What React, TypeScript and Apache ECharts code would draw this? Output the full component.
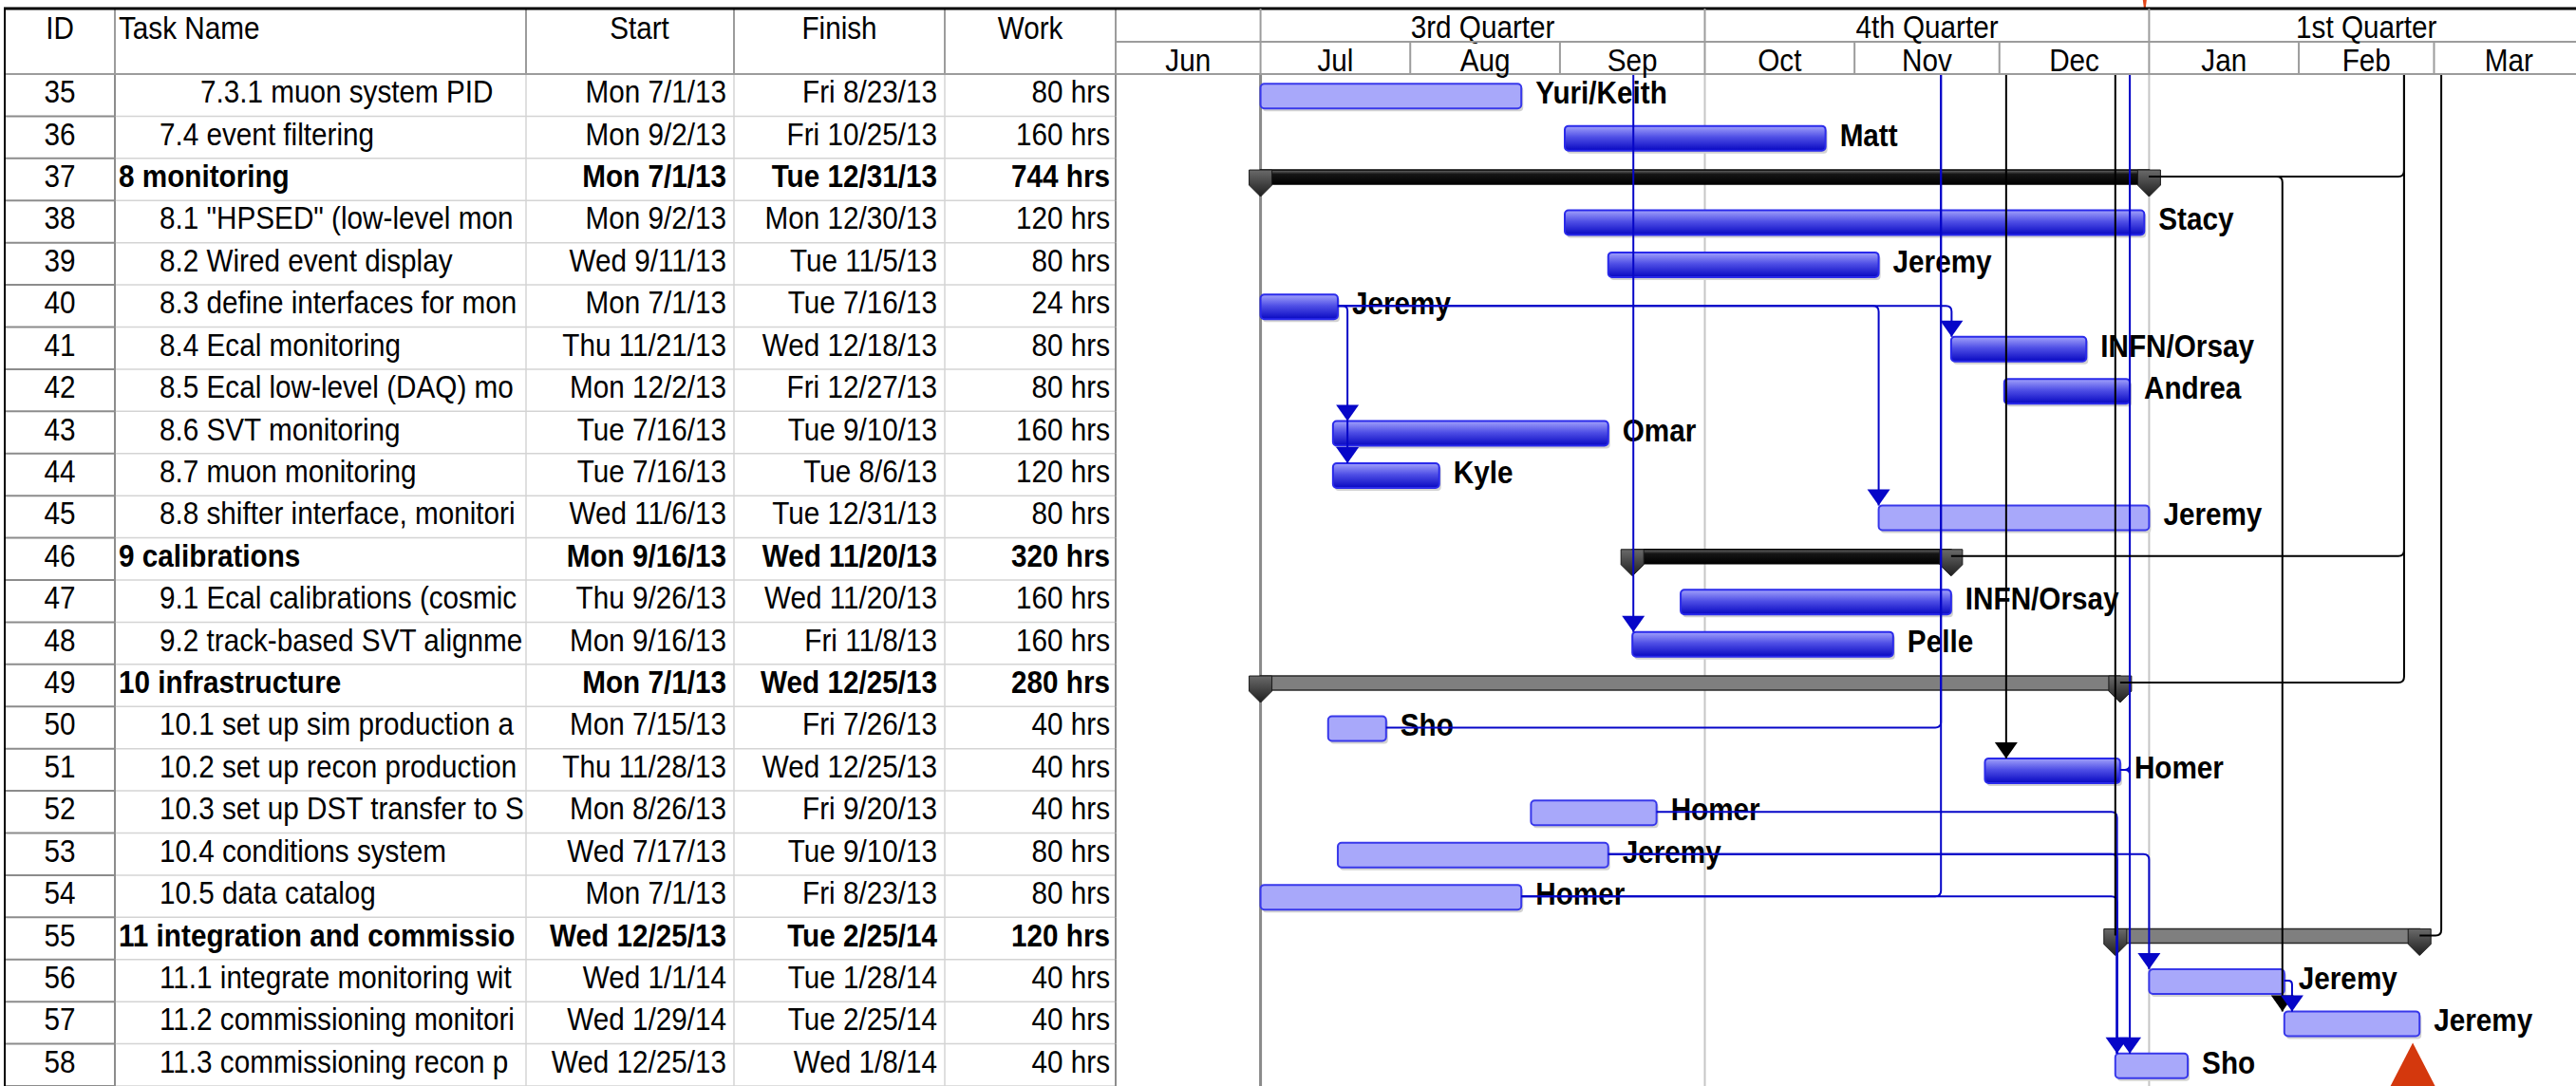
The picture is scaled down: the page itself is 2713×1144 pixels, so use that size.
import React, { useEffect, useRef } from "react";
import * as echarts from "echarts";

// ---------------- DATA ----------------
const ids = [35, 36, 37, 38, 39, 40, 41, 42, 43, 44, 45, 46, 47, 48, 49, 50, 51, 52, 53, 54, 55, 56, 57, 58];
const taskNames = [
  "7.3.1 muon system PID",
  "7.4 event filtering",
  "8 monitoring",
  '8.1 "HPSED" (low-level mon',
  "8.2 Wired event display",
  "8.3 define interfaces for mon",
  "8.4 Ecal monitoring",
  "8.5 Ecal low-level (DAQ) mo",
  "8.6 SVT monitoring",
  "8.7 muon monitoring",
  "8.8 shifter interface, monitori",
  "9 calibrations",
  "9.1 Ecal calibrations (cosmic",
  "9.2 track-based SVT alignme",
  "10 infrastructure",
  "10.1 set up sim production a",
  "10.2 set up recon production",
  "10.3 set up DST transfer to S",
  "10.4 conditions system",
  "10.5 data catalog",
  "11 integration and commissio",
  "11.1 integrate monitoring wit",
  "11.2 commissioning monitori",
  "11.3 commissioning recon p",
];
const outlineLevels = [3, 2, 1, 2, 2, 2, 2, 2, 2, 2, 2, 1, 2, 2, 1, 2, 2, 2, 2, 2, 1, 2, 2, 2];
const startLabels = [
  "Mon 7/1/13", "Mon 9/2/13", "Mon 7/1/13", "Mon 9/2/13", "Wed 9/11/13", "Mon 7/1/13",
  "Thu 11/21/13", "Mon 12/2/13", "Tue 7/16/13", "Tue 7/16/13", "Wed 11/6/13", "Mon 9/16/13",
  "Thu 9/26/13", "Mon 9/16/13", "Mon 7/1/13", "Mon 7/15/13", "Thu 11/28/13", "Mon 8/26/13",
  "Wed 7/17/13", "Mon 7/1/13", "Wed 12/25/13", "Wed 1/1/14", "Wed 1/29/14", "Wed 12/25/13",
];
const finishLabels = [
  "Fri 8/23/13", "Fri 10/25/13", "Tue 12/31/13", "Mon 12/30/13", "Tue 11/5/13", "Tue 7/16/13",
  "Wed 12/18/13", "Fri 12/27/13", "Tue 9/10/13", "Tue 8/6/13", "Tue 12/31/13", "Wed 11/20/13",
  "Wed 11/20/13", "Fri 11/8/13", "Wed 12/25/13", "Fri 7/26/13", "Wed 12/25/13", "Fri 9/20/13",
  "Tue 9/10/13", "Fri 8/23/13", "Tue 2/25/14", "Tue 1/28/14", "Tue 2/25/14", "Wed 1/8/14",
];
const workLabels = [
  "80 hrs", "160 hrs", "744 hrs", "120 hrs", "80 hrs", "24 hrs", "80 hrs", "80 hrs",
  "160 hrs", "120 hrs", "80 hrs", "320 hrs", "160 hrs", "160 hrs", "280 hrs", "40 hrs",
  "40 hrs", "40 hrs", "80 hrs", "80 hrs", "120 hrs", "40 hrs", "40 hrs", "40 hrs",
];
const resourceNames = [
  "Yuri/Keith", "Matt", "", "Stacy", "Jeremy", "Jeremy", "INFN/Orsay", "Andrea",
  "Omar", "Kyle", "Jeremy", "", "INFN/Orsay", "Pelle", "", "Sho",
  "Homer", "Homer", "Jeremy", "Homer", "", "Jeremy", "Jeremy", "Sho",
];
// L = light task, D = dark task, SB = black summary, SG = gray summary
const barKinds = [
  "L", "D", "SB", "D", "D", "D", "D", "D", "D", "D", "L", "SB",
  "D", "D", "SG", "L", "D", "L", "L", "L", "SG", "L", "L", "L",
];
const headerLabels = ["ID", "Task Name", "Start", "Finish", "Work"];

const quarterLabels = ["3rd Quarter", "4th Quarter", "1st Quarter"];
const quarterStarts = ["2013-07-01", "2013-10-01", "2014-01-01"];
const quarterEnds = ["2013-10-01", "2014-01-01", "2014-04-01"];
const monthLabels = ["Jun", "Jul", "Aug", "Sep", "Oct", "Nov", "Dec", "Jan", "Feb", "Mar"];
const monthStarts = [
  "2013-06-01", "2013-07-01", "2013-08-01", "2013-09-01", "2013-10-01",
  "2013-11-01", "2013-12-01", "2014-01-01", "2014-02-01", "2014-03-01",
];
const gridLineDates = ["2013-07-01", "2013-10-01", "2014-01-01"];
const gridLineKinds = ["start", "quarter", "quarter"];

// link paths: [color, points]; point = [date(+fraction of day), row index, anchor]
// anchor: T = top of chart, c = row centre, t = bar top, s = summary line
const linkPaths: [string, [string, number, string][]][] = [
  ["blue", [["2013-09-16+0.2", 0, "T"], ["2013-09-16+0.2", 13, "t"]]],
  ["blue", [["2013-07-17", 5, "c"], ["2013-11-21+0.1", 5, "c"], ["2013-11-21+0.1", 6, "t"]]],
  ["blue", [["2013-07-17", 5, "c"], ["2013-07-19", 5, "c"], ["2013-07-19", 9, "t"]]],
  ["blue", [["2013-07-17", 5, "c"], ["2013-11-06", 5, "c"], ["2013-11-06", 10, "t"]]],
  ["blue", [["2013-07-27", 15, "c"], ["2013-11-18+0.9", 15, "c"], ["2013-11-18+0.9", 0, "T"]]],
  ["blue", [["2013-08-24", 19, "c"], ["2013-11-18+0.9", 19, "c"], ["2013-11-18+0.9", 0, "T"]]],
  ["blue", [["2013-09-21", 17, "c"], ["2013-12-25+0.35", 17, "c"], ["2013-12-25+0.35", 23, "t"]]],
  ["blue", [["2013-09-11", 18, "c"], ["2014-01-01", 18, "c"], ["2014-01-01", 21, "t"]]],
  ["blue", [["2013-09-11", 18, "c"], ["2013-12-25+0.35", 18, "c"], ["2013-12-25+0.35", 23, "t"]]],
  ["blue", [["2013-08-24", 19, "c"], ["2013-12-25+0.35", 19, "c"], ["2013-12-25+0.35", 23, "t"]]],
  ["blue", [["2013-12-28", 0, "T"], ["2013-12-28", 23, "t"]]],
  ["blue", [["2013-12-26", 16, "c"], ["2013-12-28", 16, "c"], ["2013-12-28", 23, "t"]]],
  ["blue", [["2013-12-26", 16, "c"], ["2013-12-28", 16, "c"], ["2013-12-28", 0, "T"]]],
  ["black", [["2013-12-02+0.4", 0, "T"], ["2013-12-02+0.4", 16, "t"]]],
  ["black", [["2013-12-25", 0, "T"], ["2013-12-25", 20, "s"]]],
  ["black", [["2014-01-01", 2, "s"], ["2014-02-22+0.8", 2, "s"], ["2014-02-22+0.8", 0, "T"]]],
  ["black", [["2013-11-21", 11, "s"], ["2014-02-22+0.8", 11, "s"], ["2014-02-22+0.8", 0, "T"]]],
  ["black", [["2013-12-26", 14, "s"], ["2014-02-22+0.8", 14, "s"], ["2014-02-22+0.8", 0, "T"]]],
  ["black", [["2014-01-01", 2, "s"], ["2014-01-28+0.6", 2, "s"], ["2014-01-28+0.6", 22, "t"]]],
  ["black", [["2014-02-26", 20, "s"], ["2014-03-02+0.5", 20, "s"], ["2014-03-02+0.5", 0, "T"]]],
  ["blue", [["2014-01-29", 21, "c"], ["2014-01-30+0.6", 21, "c"], ["2014-01-30+0.6", 22, "t"]]],
];
// arrow heads: [color, date, row]  (tip sits on the bar top)
const linkArrows: [string, string, number][] = [
  ["blue", "2013-09-16+0.2", 13],
  ["blue", "2013-11-21+0.1", 6],
  ["blue", "2013-07-19", 8],
  ["blue", "2013-07-19", 9],
  ["blue", "2013-11-06", 10],
  ["blue", "2014-01-01", 21],
  ["black", "2013-12-02+0.4", 16],
  ["black", "2014-01-28+0.6", 22],
  ["blue", "2014-01-30+0.6", 22],
  ["blue", "2013-12-25+0.35", 23],
  ["blue", "2013-12-28", 23],
];
const deadlineMarker: [string, number] = ["2014-02-24+0.6", 22];
const statusDate = "2013-12-31+0.1";

// ---------------- LAYOUT / STYLE ----------------
const DAY = 86400000;
const W = 2713;
const H = 1144;
const TOP_Y = 9;
const MID_Y = 44;
const HEAD_B = 78;
const TABLE_LEFT = 5;
const COL_OFF = [0, 116, 549, 768, 990, 1170];
const GANTT_LEFT = 1175;
const FONT = '"Liberation Sans", Arial, Helvetica, sans-serif';
const FS = 33;
const SX = 0.9;
const TEXT_DY = -3;
const BAR_TOP = -12;
const BAR_H = 26;
const SUM_TOP = -10;
const SUM_H = 15;
const CORNER = 6;
const COLORS: Record<string, string> = { blue: "#0606c8", black: "#000000" };

const T = (s: string): number => {
  const [d, f] = s.split("+");
  const [y, m, dd] = d.split("-").map(Number);
  return Date.UTC(y, m - 1, dd) + (f ? parseFloat(f) : 0) * DAY;
};
const parseMDY = (s: string): number => {
  const p = s.split(" ")[1].split("/").map(Number);
  return Date.UTC(2000 + p[2], p[0] - 1, p[1]);
};
const X_MIN = T("2013-06-01");
const X_MAX = X_MIN + 302.4 * DAY;

const seg = (x1: number, y1: number, x2: number, y2: number, stroke: string, lineWidth: number) => ({
  type: "line",
  shape: { x1, y1, x2, y2 },
  style: { stroke, lineWidth },
});
const txt = (text: string, x: number, y: number, align: string, bold = false, extra: any = {}) => ({
  type: "text",
  x,
  y,
  scaleX: SX,
  style: {
    text,
    x: 0,
    y: 0,
    fill: "#000",
    fontFamily: FONT,
    fontSize: FS,
    fontWeight: bold ? "bold" : "normal",
    align,
    verticalAlign: "middle",
    ...extra,
  },
});

// polyline with small rounded bends, as an SVG path string
function roundedPath(pts: number[][]): string {
  let d = `M${pts[0][0]},${pts[0][1]}`;
  for (let k = 1; k < pts.length - 1; k++) {
    const [px, py] = pts[k - 1];
    const [cx, cy] = pts[k];
    const [nx, ny] = pts[k + 1];
    const l1 = Math.hypot(cx - px, cy - py) || 1;
    const l2 = Math.hypot(nx - cx, ny - cy) || 1;
    const r = Math.min(CORNER, l1 / 2, l2 / 2);
    const ax = cx - ((cx - px) / l1) * r;
    const ay = cy - ((cy - py) / l1) * r;
    const bx = cx + ((nx - cx) / l2) * r;
    const by = cy + ((ny - cy) / l2) * r;
    d += ` L${ax},${ay} Q${cx},${cy} ${bx},${by}`;
  }
  const last = pts[pts.length - 1];
  d += ` L${last[0]},${last[1]}`;
  return d;
}

function buildOption(): any {
  const starts = startLabels.map(parseMDY);
  const ends = finishLabels.map((s) => parseMDY(s) + DAY);
  const darkGrad = new echarts.graphic.LinearGradient(0, 0, 0, 1, [
    { offset: 0, color: "#a2a2fb" },
    { offset: 0.45, color: "#5050e6" },
    { offset: 1, color: "#0808c2" },
  ]);
  const blackGrad = new echarts.graphic.LinearGradient(0, 0, 0, 1, [
    { offset: 0, color: "#6e6e6e" },
    { offset: 0.3, color: "#151515" },
    { offset: 1, color: "#000000" },
  ]);
  const capGrad = new echarts.graphic.LinearGradient(0, 0, 0, 1, [
    { offset: 0, color: "#6a6a6a" },
    { offset: 1, color: "#1e1e1e" },
  ]);

  const LIGHT = "#d4d4d4";
  const DARK = "#8c8c8c";
  const HEAD = "#9c9c9c";

  const tableHeader = {
    type: "custom",
    xAxisIndex: 0,
    yAxisIndex: 0,
    silent: true,
    z: 10,
    data: [[0.5, 0]],
    renderItem: (params: any) => {
      const cs = params.coordSys;
      const L = cs.x;
      const ch: any[] = [];
      ch.push(seg(L, HEAD_B, W, HEAD_B, HEAD, 2));
      for (let k = 1; k <= 5; k++) ch.push(seg(L + COL_OFF[k], TOP_Y, L + COL_OFF[k], HEAD_B, HEAD, 2));
      ch.push(seg(L, TOP_Y, L, H, "#000", 2));
      ch.push(seg(L - 1, TOP_Y, W, TOP_Y, "#000", 3));
      headerLabels.forEach((lab, k) => {
        if (k === 1) ch.push(txt(lab, L + COL_OFF[1] + 4, 30, "left"));
        else {
          const nudge = k === 2 ? 10 : 0;
          ch.push(txt(lab, L + (COL_OFF[k] + COL_OFF[k + 1]) / 2 + nudge, 30, "center"));
        }
      });
      return { type: "group", children: ch };
    },
  };

  const tableRows = {
    type: "custom",
    xAxisIndex: 0,
    yAxisIndex: 0,
    silent: true,
    z: 5,
    data: ids.map((_, i) => [0.5, i]),
    renderItem: (params: any, api: any) => {
      const i = params.dataIndex;
      const L = params.coordSys.x;
      const c = api.coord([0.5, i])[1];
      const h = api.size([0, 1])[1];
      const top = c - h / 2;
      const bot = c + h / 2;
      const ty = c + TEXT_DY;
      const bold = barKinds[i].charAt(0) === "S";
      const ch: any[] = [];
      ch.push(seg(L + COL_OFF[1], bot, L + COL_OFF[5], bot, LIGHT, 1.5));
      for (let k = 2; k <= 4; k++) ch.push(seg(L + COL_OFF[k], top, L + COL_OFF[k], bot, LIGHT, 1.5));
      ch.push(seg(L, bot, L + COL_OFF[1], bot, DARK, 2));
      ch.push(seg(L + COL_OFF[1], top, L + COL_OFF[1], bot, DARK, 2));
      ch.push(seg(L + COL_OFF[5], top, L + COL_OFF[5], bot, DARK, 2));
      ch.push(txt(String(ids[i]), L + COL_OFF[1] / 2, ty, "center"));
      const indent = 4 + (outlineLevels[i] - 1) * 43;
      const avail = COL_OFF[2] - COL_OFF[1] - indent + 6;
      ch.push(
        txt(taskNames[i], L + COL_OFF[1] + indent, ty, "left", bold, {
          width: avail / SX,
          overflow: "truncate",
          ellipsis: "",
        })
      );
      ch.push(txt(startLabels[i], L + COL_OFF[3] - 8, ty, "right", bold));
      ch.push(txt(finishLabels[i], L + COL_OFF[4] - 8, ty, "right", bold));
      ch.push(txt(workLabels[i], L + COL_OFF[5] - 6, ty, "right", bold));
      return { type: "group", children: ch };
    },
  };

  const months = {
    type: "custom",
    xAxisIndex: 1,
    yAxisIndex: 1,
    silent: true,
    z: 10,
    data: monthStarts.map((s, k) => [T(s), k < monthStarts.length - 1 ? T(monthStarts[k + 1]) : T("2014-04-01")]),
    renderItem: (params: any, api: any) => {
      const k = params.dataIndex;
      const x0 = api.coord([api.value(0), 0])[0];
      const x1 = api.coord([api.value(1), 0])[0];
      const ch: any[] = [];
      ch.push(seg(x0, MID_Y, x0, HEAD_B, HEAD, 2));
      ch.push(txt(monthLabels[k], (x0 + x1) / 2, 64, "center"));
      return { type: "group", children: ch };
    },
  };

  const quarters = {
    type: "custom",
    xAxisIndex: 1,
    yAxisIndex: 1,
    silent: true,
    z: 10,
    data: quarterStarts.map((s, k) => [T(s), T(quarterEnds[k])]),
    renderItem: (params: any, api: any) => {
      const k = params.dataIndex;
      const x0 = api.coord([api.value(0), 0])[0];
      const x1 = api.coord([api.value(1), 0])[0];
      const ch: any[] = [];
      ch.push(seg(x0, TOP_Y, x0, MID_Y, HEAD, 2));
      ch.push(txt(quarterLabels[k], (x0 + x1) / 2, 29, "center"));
      if (k === 0) ch.push(seg(params.coordSys.x, MID_Y, W, MID_Y, HEAD, 2));
      return { type: "group", children: ch };
    },
  };

  const gridLines = {
    type: "custom",
    xAxisIndex: 1,
    yAxisIndex: 1,
    silent: true,
    z: 1,
    data: gridLineDates.map((d) => [T(d), 0]),
    renderItem: (params: any, api: any) => {
      const k = params.dataIndex;
      const x = api.coord([api.value(0), 0])[0];
      const cs = params.coordSys;
      const strong = gridLineKinds[k] === "start";
      return seg(x, cs.y, x, cs.y + cs.height, strong ? "#8a8a8a" : "#c6c6c6", strong ? 3 : 2);
    },
  };

  const bars = {
    type: "custom",
    xAxisIndex: 1,
    yAxisIndex: 1,
    silent: true,
    z: 3,
    data: ids.map((_, i) => [starts[i], i, ends[i]]),
    renderItem: (params: any, api: any) => {
      const i = params.dataIndex;
      const s = api.coord([api.value(0), i]);
      const e = api.coord([api.value(2), i]);
      const c = s[1];
      const kind = barKinds[i];
      const ch: any[] = [];
      if (kind === "L" || kind === "D") {
        const w = e[0] - s[0];
        ch.push({
          type: "rect",
          shape: { x: s[0] + 2, y: c + BAR_TOP + 3, width: w, height: BAR_H, r: 4 },
          style: { fill: "#d2d2d2" },
        });
        ch.push({
          type: "rect",
          shape: { x: s[0], y: c + BAR_TOP, width: w, height: BAR_H, r: 4 },
          style: {
            fill: kind === "D" ? darkGrad : "#a8a8fa",
            stroke: kind === "D" ? "#2a2aea" : "#3838ea",
            lineWidth: 2,
          },
        });
        if (resourceNames[i]) ch.push(txt(resourceNames[i], e[0] + 15, c + TEXT_DY + 1, "left", true));
      } else {
        ch.push({
          type: "rect",
          shape: { x: s[0], y: c + SUM_TOP, width: e[0] - s[0], height: SUM_H },
          style: {
            fill: kind === "SB" ? blackGrad : "#7f7f7f",
            stroke: kind === "SB" ? "#000" : "#2a2a2a",
            lineWidth: 1.5,
          },
        });
        [s[0], e[0]].forEach((x) => {
          ch.push({
            type: "polygon",
            shape: {
              points: [
                [x - 12, c + SUM_TOP],
                [x + 12, c + SUM_TOP],
                [x + 12, c + 6],
                [x, c + 18],
                [x - 12, c + 6],
              ],
            },
            style: { fill: capGrad, stroke: "#1a1a1a", lineWidth: 1 },
          });
        });
      }
      return { type: "group", children: ch };
    },
  };

  const links = {
    type: "custom",
    xAxisIndex: 1,
    yAxisIndex: 1,
    silent: true,
    z: 6,
    data: linkPaths.map((lp) => [T(lp[1][0][0]), lp[1][0][1]]),
    renderItem: (params: any, api: any) => {
      const [color, pts] = linkPaths[params.dataIndex];
      const cs = params.coordSys;
      const points = pts.map(([d, r, a]) => {
        const p = api.coord([T(d), r]);
        let y = p[1];
        if (a === "T") y = cs.y;
        else if (a === "t") y = p[1] + BAR_TOP;
        else if (a === "s") y = p[1] - 3;
        return [p[0], y];
      });
      return {
        type: "path",
        shape: { pathData: roundedPath(points) },
        style: { stroke: COLORS[color], lineWidth: 2, fill: null },
      };
    },
  };

  const arrows = {
    type: "custom",
    xAxisIndex: 1,
    yAxisIndex: 1,
    silent: true,
    z: 7,
    data: linkArrows.map((a) => [T(a[1]), a[2]]),
    renderItem: (params: any, api: any) => {
      const [color, d, r] = linkArrows[params.dataIndex];
      const p = api.coord([T(d), r]);
      const tipY = p[1] + BAR_TOP;
      return {
        type: "polygon",
        shape: { points: [[p[0] - 12, tipY - 17], [p[0] + 12, tipY - 17], [p[0], tipY]] },
        style: { fill: COLORS[color] },
      };
    },
  };

  const markers = {
    type: "custom",
    xAxisIndex: 1,
    yAxisIndex: 1,
    silent: true,
    z: 8,
    data: [[T(deadlineMarker[0]), deadlineMarker[1]]],
    renderItem: (params: any, api: any) => {
      const p = api.coord([api.value(0), api.value(1)]);
      const apex = p[1] + BAR_TOP + BAR_H + 7;
      const sx = api.coord([T(statusDate), 0])[0];
      return {
        type: "group",
        children: [
          {
            type: "polygon",
            shape: { points: [[p[0], apex], [p[0] - 36, apex + 70], [p[0] + 36, apex + 70]] },
            style: { fill: "#d4380d" },
          },
          {
            type: "polygon",
            shape: { points: [[sx - 2, 0], [sx + 2, 0], [sx + 1, 8], [sx - 1, 8]] },
            style: { fill: "#e2461a" },
          },
        ],
      };
    },
  };

  return {
    animation: false,
    backgroundColor: "#ffffff",
    grid: [
      { left: TABLE_LEFT, top: HEAD_B, width: COL_OFF[5], bottom: 0 },
      { left: GANTT_LEFT, top: HEAD_B, right: 0, bottom: 0 },
    ],
    xAxis: [
      { gridIndex: 0, type: "value", min: 0, max: 1, show: false },
      { gridIndex: 1, type: "time", min: X_MIN, max: X_MAX, show: false },
    ],
    yAxis: [
      { gridIndex: 0, type: "category", data: ids.map(String), inverse: true, show: false },
      { gridIndex: 1, type: "category", data: ids.map(String), inverse: true, show: false },
    ],
    series: [gridLines, tableRows, tableHeader, months, quarters, bars, links, arrows, markers],
  };
}

export default function App() {
  const ref = useRef<HTMLDivElement>(null);
  useEffect(() => {
    document.body.style.margin = "0";
    const chart = echarts.init(ref.current as HTMLDivElement, null, { renderer: "svg" });
    chart.setOption(buildOption());
    return () => chart.dispose();
  }, []);
  return (
    <div
      ref={ref}
      style={{ position: "fixed", left: 0, top: 0, width: W, height: H, background: "#fff" }}
    />
  );
}
